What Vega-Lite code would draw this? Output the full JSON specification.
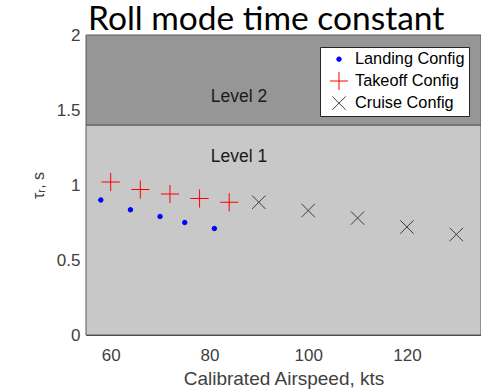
{
  "$schema": "https://vega.github.io/schema/vega-lite/v6.json",
  "autosize": {"type": "none"},
  "padding": {"left": 86, "top": 35, "right": 0, "bottom": 57},
  "width": 395,
  "height": 300,
  "background": "white",
  "title": {
    "text": "Roll mode time constant",
    "font": "Lato",
    "fontSize": 33.5,
    "fontWeight": "normal",
    "color": "black",
    "anchor": "start",
    "frame": "group",
    "baseline": "alphabetic",
    "offset": 0,
    "dx": 2,
    "dy": 37
  },
  "config": {
    "view": {"stroke": null},
    "axis": {
      "labelFont": "Liberation Sans",
      "titleFont": "Liberation Sans",
      "labelColor": "#404040",
      "titleColor": "#404040",
      "titleFontWeight": "normal",
      "domainColor": "#404040",
      "ticks": false,
      "grid": false
    },
    "legend": {
      "labelFont": "Liberation Sans"
    }
  },
  "layer": [
    {
      "data": {"values": [{"lo": 0, "hi": 1.4, "level": "Level 1"}]},
      "mark": {"type": "rect", "fill": "#c8c8c8", "stroke": "#5a5a5a", "strokeWidth": 1},
      "encoding": {
        "y": {"field": "lo", "type": "quantitative", "scale": {"domain": [0, 2]}},
        "y2": {"field": "hi"}
      }
    },
    {
      "data": {"values": [{"lo": 1.4, "hi": 2, "level": "Level 2"}]},
      "mark": {"type": "rect", "fill": "#969696", "stroke": "#5a5a5a", "strokeWidth": 1},
      "encoding": {
        "y": {"field": "lo", "type": "quantitative"},
        "y2": {"field": "hi"}
      }
    },
    {
      "data": {"values": [
        {"speed": 86, "tau": 1.585, "label": "Level 2"},
        {"speed": 86, "tau": 1.185, "label": "Level 1"}
      ]},
      "mark": {"type": "text", "font": "Liberation Sans", "fontSize": 17.5, "color": "#1a1a1a", "align": "center", "baseline": "middle"},
      "encoding": {
        "x": {"field": "speed", "type": "quantitative"},
        "y": {"field": "tau", "type": "quantitative"},
        "text": {"field": "label"}
      }
    },
    {
      "data": {"values": [
        {"series": "Landing Config", "speed": 58, "tau": 0.9},
        {"series": "Landing Config", "speed": 64, "tau": 0.835},
        {"series": "Landing Config", "speed": 70, "tau": 0.79},
        {"series": "Landing Config", "speed": 75, "tau": 0.75},
        {"series": "Landing Config", "speed": 81, "tau": 0.71},
        {"series": "Takeoff Config", "speed": 60, "tau": 1.02},
        {"series": "Takeoff Config", "speed": 66, "tau": 0.97},
        {"series": "Takeoff Config", "speed": 72, "tau": 0.94},
        {"series": "Takeoff Config", "speed": 78, "tau": 0.91},
        {"series": "Takeoff Config", "speed": 84, "tau": 0.885},
        {"series": "Cruise Config", "speed": 90, "tau": 0.885},
        {"series": "Cruise Config", "speed": 100, "tau": 0.83},
        {"series": "Cruise Config", "speed": 110, "tau": 0.78},
        {"series": "Cruise Config", "speed": 120, "tau": 0.72},
        {"series": "Cruise Config", "speed": 130, "tau": 0.67}
      ]},
      "mark": {"type": "point", "strokeWidth": 1, "opacity": 1},
      "encoding": {
        "x": {
          "field": "speed", "type": "quantitative",
          "scale": {"domain": [55, 135], "nice": false, "zero": false},
          "axis": {"title": "Calibrated Airspeed, kts", "values": [60, 80, 100, 120], "labelFontSize": 17, "titleFontSize": 19, "labelPadding": 12, "titlePadding": 6, "domainColor": "#404040"}
        },
        "y": {
          "field": "tau", "type": "quantitative",
          "scale": {"domain": [0, 2], "nice": false},
          "axis": {"title": "τᵣ, s", "values": [0, 0.5, 1, 1.5, 2], "format": "~g", "labelFontSize": 17, "titleFontSize": 16, "labelPadding": 6, "titlePadding": 10}
        },
        "shape": {
          "field": "series", "type": "nominal",
          "scale": {"domain": ["Landing Config", "Takeoff Config", "Cruise Config"], "range": ["circle", "M-1,0L1,0M0,-1L0,1", "M-1,-1L1,1M-1,1L1,-1"]},
          "legend": {
            "title": null, "orient": "none", "legendX": 234, "legendY": 12,
            "fillColor": "white", "strokeColor": "#262626", "padding": 4,
            "labelFontSize": 16.3, "labelColor": "black", "rowPadding": 1, "labelOffset": 6, "symbolOffset": 5, "symbolStrokeWidth": 1
          }
        },
        "stroke": {
          "field": "series", "type": "nominal",
          "scale": {"domain": ["Landing Config", "Takeoff Config", "Cruise Config"], "range": ["#0000ff", "#ff0000", "#3c3c3c"]}
        },
        "fill": {
          "field": "series", "type": "nominal",
          "scale": {"domain": ["Landing Config", "Takeoff Config", "Cruise Config"], "range": ["#0000ff", "transparent", "transparent"]}
        },
        "size": {
          "field": "series", "type": "nominal",
          "scale": {"type": "ordinal", "domain": ["Landing Config", "Takeoff Config", "Cruise Config"], "range": [20, 330, 180]}
        }
      }
    }
  ]
}
